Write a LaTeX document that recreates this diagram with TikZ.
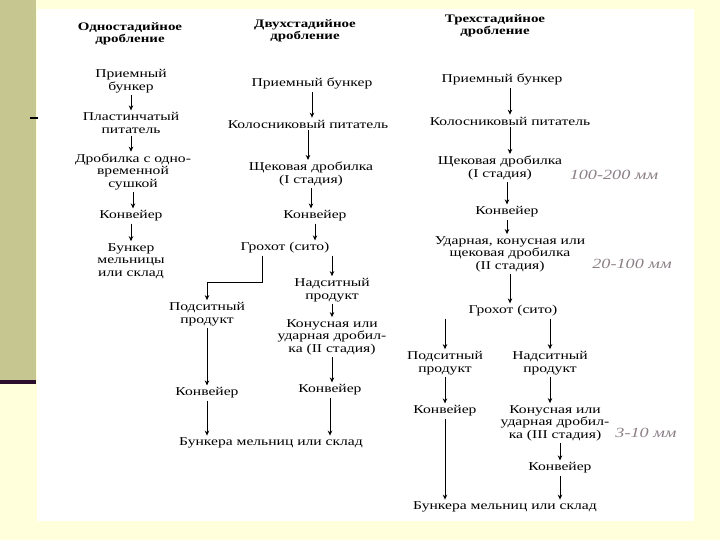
\documentclass[tikz,border=0pt]{standalone}
\usepackage{fontspec}
\setmainfont{Liberation Serif}[FakeStretch=1.3]
\usetikzlibrary{arrows.meta, positioning}
\definecolor{cream}{HTML}{FFFFDC}
\definecolor{olive}{HTML}{C5C690}
\definecolor{plum}{HTML}{2B0F2D}
\definecolor{pencil}{HTML}{8C8088}

\begin{document}
\begin{tikzpicture}[x=1pt, y=-1pt,
  box/.style={align=center, inner sep=2pt, font=\fontsize{12}{12.5}\selectfont},
  head/.style={box, font=\fontsize{11.5}{12.5}\selectfont\bfseries},
  note/.style={text=pencil, font=\fontsize{14}{14}\selectfont\itshape},
  edge/.style={-{Stealth[length=5pt, width=4.5pt]}, line width=0.9pt}
]
% slide
\useasboundingbox (0,0) rectangle (720,540);
\fill[cream] (0,0) rectangle (720,540);
\fill[olive] (0,0) rectangle (36,381);
\fill[plum] (0,380) rectangle (36,384);
\fill[white] (37,9) rectangle (694,521);
\draw[line width=2pt] (30,118) -- (38,118);

% one stage
\node[head] (h1) at (130,34) {Одностадийное\\дробление};
\node[box] (a1) at (131,81) {Приемный\\бункер};
\node[box] (a2) at (131,123) {Пластинчатый\\питатель};
\node[box] (a3) at (133,172) {Дробилка с одно-\\временной\\сушкой};
\node[box] (a4) at (131,216) {Конвейер};
\node[box] (a5) at (131,261) {Бункер\\мельницы\\или склад};

\draw[edge] (a1.south) -- (a1.south |- a2.north);
\draw[edge] (a2.south) -- (a2.south |- a3.north);
\draw[edge] (a3.south) -- (a3.south |- a4.north);
\draw[edge] (a4.south) -- (a4.south |- a5.north);

% two stages
\node[head] (h2) at (305,31) {Двухстадийное\\дробление};
\node[box] (b1) at (312,84) {Приемный бункер};
\node[box] (b2) at (308,124) {Колосниковый питатель};
\node[box] (b3) at (311,174) {Щековая дробилка\\(I стадия)};
\node[box] (b4) at (315,216) {Конвейер};
\node[box] (b5) at (285,248) {Грохот (сито)};
\node[box] (b6) at (207,314) {Подситный\\продукт};
\node[box] (b7) at (332,290) {Надситный\\продукт};
\node[box] (b8) at (332,337) {Конусная или\\ударная дробил-\\ка (II стадия)};
\node[box] (b9) at (207,393) {Конвейер};
\node[box] (b10) at (330,390) {Конвейер};
\node[box] (b11) at (271,443) {Бункера мельниц или склад};
\coordinate (j2) at (262,282);

\draw[edge] (b1.south) -- (b1.south |- b2.north);
\draw[edge] (b2.south) -- (b2.south |- b3.north);
\draw[edge] (b3.south) -- (b3.south |- b4.north);
\draw[edge] (b4.south) -- (b4.south |- b5.north);
\draw[edge] (b5.south -| j2) -- (j2) -| (b6);
\draw[edge] (b5.south -| b7) -- (b7);
\draw[edge] (b7.south) -- (b7.south |- b8.north);
\draw[edge] (b8.south) -- (b8.south |- b10.north);
\draw[edge] (b6.south) -- (b6.south |- b9.north);
\draw[edge] (b9.south) -- (b9.south |- b11.north);
\draw[edge] (b10.south) -- (b10.south |- b11.north);

% three stages
\node[head] (h3) at (495,26) {Трехстадийное\\дробление};
\node[box] (c1) at (502,80) {Приемный бункер};
\node[box] (c2) at (510,121) {Колосниковый питатель};
\node[box] (c3) at (500,168) {Щековая дробилка\\(I стадия)};
\node[box] (c4) at (507,212) {Конвейер};
\node[box] (c5) at (510,254) {Ударная, конусная или\\щековая дробилка\\(II стадия)};
\node[box] (c6) at (513,311) {Грохот (сито)};
\node[box] (c7) at (445,363) {Подситный\\продукт};
\node[box] (c8) at (550,363) {Надситный\\продукт};
\node[box] (c9) at (445,411) {Конвейер};
\node[box] (c10) at (555,423) {Конусная или\\ударная дробил-\\ка (III стадия)};
\node[box] (c11) at (560,468) {Конвейер};
\node[box] (c12) at (505,507) {Бункера мельниц или склад};

\draw[edge] (c1.south -| c2) -- (c2);
\draw[edge] (c2.south) -- (c2.south |- c3.north);
\draw[edge] (c3.south -| c4) -- (c4);
\draw[edge] (c4.south) -- (c4.south |- c5.north);
\draw[edge] (c5.south) -- (c5.south |- c6.north);
\draw[edge] (c6.south -| c7) -- (c7);
\draw[edge] (c6.south -| c8) -- (c8);
\draw[edge] (c7.south) -- (c7.south |- c9.north);
\draw[edge] (c8.south) -- (c8.south |- c10.north);
\draw[edge] (c9.south) -- (c9.south |- c12.north);
\draw[edge] (c10.south -| c11) -- (c11);
\draw[edge] (c11.south) -- (c11.south |- c12.north);

% pencil notes
\node[note] (n1) at (614,175) {100-200 мм};
\node[note] (n2) at (632,264) {20-100 мм};
\node[note] (n3) at (646,433) {3-10 мм};
\end{tikzpicture}
\end{document}
